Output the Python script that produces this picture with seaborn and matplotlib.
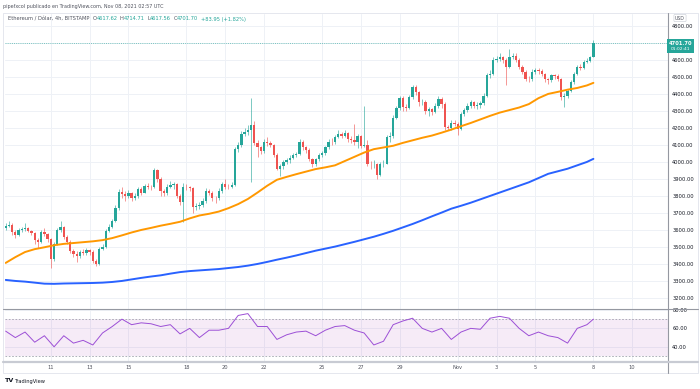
import numpy as np
import pandas as pd
import matplotlib
matplotlib.use("Agg")
import matplotlib.pyplot as plt
from matplotlib.patches import Rectangle
from matplotlib.lines import Line2D
import seaborn as sns

# ---------------- data ----------------
start_time = "2021-10-08 16:00"
first_open = 3610
closes = [3625,3630,3585,3570,3600,3605,3610,3595,3580,3540,
          3530,3590,3575,3545,3430,3520,3600,3615,3560,3530,
          3475,3460,3445,3470,3465,3480,3470,3420,3400,3490,
          3500,3595,3620,3655,3730,3825,3810,3800,3815,3790,
          3800,3840,3820,3860,3855,3850,3950,3900,3830,3815,
          3850,3865,3870,3800,3765,3855,3850,3845,3735,3740,
          3745,3770,3830,3820,3790,3785,3830,3868,3855,3850,
          3865,4075,4100,4165,4175,4185,4215,4110,4085,4065,
          4120,4110,4100,4040,3960,3975,4000,4010,4025,4040,
          4045,4120,4085,4070,4015,3985,4015,4040,4050,4085,
          4120,4115,4145,4165,4155,4170,4135,4130,4115,4150,
          4095,4100,3990,3985,3990,3925,3985,3990,4145,4150,
          4260,4315,4375,4325,4320,4380,4440,4410,4350,4355,
          4300,4310,4295,4330,4370,4340,4205,4200,4230,4225,
          4195,4280,4305,4330,4350,4330,4335,4345,4390,4510,
          4520,4600,4605,4615,4600,4560,4620,4625,4600,4560,
          4530,4490,4485,4530,4540,4535,4520,4485,4480,4510,
          4505,4490,4380,4390,4420,4470,4520,4560,4555,4590,
          4595,4617.62,4701.70]
highs = [3640,3650,3640,3600,3610,3615,3640,3620,3600,3590,
         3550,3600,3610,3580,3555,3530,3610,3650,3625,3570,
         3540,3490,3475,3480,3490,3495,3490,3480,3430,3500,
         3515,3605,3635,3665,3745,3840,3850,3830,3835,3825,
         3820,3855,3850,3870,3875,3865,3965,3960,3910,3840,
         3870,3890,3880,3875,3810,3875,3870,3860,3850,3760,
         3765,3785,3845,3840,3830,3800,3845,3880,3900,3870,
         3880,4085,4115,4180,4200,4220,4375,4240,4130,4095,
         4135,4145,4125,4105,4050,3990,4010,4025,4040,4055,
         4060,4135,4130,4095,4080,4025,4025,4055,4065,4095,
         4135,4140,4160,4185,4175,4185,4175,4150,4225,4165,
         4160,4330,4130,4005,4010,3995,4000,4010,4160,4175,
         4275,4330,4390,4385,4340,4395,4455,4450,4420,4370,
         4365,4325,4320,4345,4385,4380,4350,4220,4245,4245,
         4235,4295,4320,4345,4365,4360,4350,4360,4405,4525,
         4540,4615,4625,4640,4625,4610,4665,4640,4640,4610,
         4570,4540,4505,4545,4555,4550,4545,4525,4495,4520,
         4520,4515,4495,4405,4430,4480,4530,4570,4575,4600,
         4610,4625,4714.71]
lows = [3600,3615,3570,3555,3565,3590,3595,3585,3570,3520,
        3495,3525,3565,3530,3376,3415,3510,3590,3545,3515,
        3465,3440,3410,3435,3450,3455,3455,3405,3390,3395,
        3480,3495,3585,3610,3645,3720,3790,3770,3790,3770,
        3775,3790,3805,3815,3840,3835,3845,3880,3800,3800,
        3805,3845,3840,3785,3745,3645,3835,3830,3700,3715,
        3725,3735,3760,3805,3770,3760,3775,3820,3840,3840,
        3845,3860,4060,4090,4150,4160,3880,4100,4030,4045,
        4055,4095,4085,4030,3950,3920,3960,3990,3995,4015,
        4030,4040,4070,4055,4005,3970,3975,4005,4030,4040,
        4075,4100,4105,4140,4140,4145,4120,4110,4100,4080,
        4080,4085,3975,3960,3965,3900,3915,3970,3985,4120,
        4140,4250,4305,4300,4300,4310,4370,4395,4330,4335,
        4280,4270,4275,4285,4320,4320,4190,4185,4190,4210,
        4160,4185,4270,4295,4320,4315,4310,4320,4335,4380,
        4495,4510,4585,4595,4580,4450,4550,4605,4590,4545,
        4515,4475,4470,4475,4520,4520,4505,4470,4460,4470,
        4490,4475,4365,4323,4375,4410,4460,4510,4540,4545,
        4580,4590,4617.56]

ma_idx = list(range(0, 181, 3)) + [182]
ma_orange = [3406,3440,3470,3487,3498,3510,3518,3523,3528,3533,
             3540,3552,3568,3585,3600,3612,3625,3636,3648,3668,
             3685,3695,3708,3728,3752,3782,3820,3860,3895,3912,
             3928,3943,3958,3968,3980,4005,4030,4055,4075,4085,
             4095,4112,4127,4142,4155,4172,4190,4210,4229,4250,
             4271,4290,4305,4320,4340,4375,4400,4412,4425,4435,
             4450,4465]
ma_blue = [3306,3300,3296,3290,3284,3283,3285,3286,3287,3288,
           3290,3294,3300,3309,3318,3326,3333,3343,3352,3358,
           3362,3366,3370,3376,3382,3390,3400,3412,3425,3437,
           3450,3464,3478,3490,3502,3516,3530,3545,3560,3577,
           3595,3615,3635,3657,3680,3702,3725,3742,3760,3780,
           3800,3820,3840,3860,3880,3905,3930,3945,3960,3980,
           4000,4018]

rsi_idx = list(range(0, 181, 3)) + [182]
rsi_vals = [57,50,56,45,52,40,52,44,47,42,
            55,62,70,64,66,65,62,64,54,60,
            50,58,58,60,74,76,62,62,48,53,
            56,57,52,58,62,63,58,55,42,46,
            64,68,71,60,56,60,48,56,60,59,
            71,73,71,60,52,56,52,50,44,60,
            64,70]

date_tick_days = ["2021-10-11","2021-10-13","2021-10-15","2021-10-18","2021-10-20",
                  "2021-10-22","2021-10-25","2021-10-27","2021-10-29","2021-11-01",
                  "2021-11-03","2021-11-05","2021-11-08","2021-11-10"]
date_tick_labels = ["11","13","15","18","20","22","25","27","29","Nov","3","5","8","10"]
price_ticks = list(range(3200, 4801, 100))
rsi_ticks = [40, 60, 80]
last_price = 4701.70
countdown = "01:02:41"
header_title = "pipefxcol publicado en TradingView.com, Nov 08, 2021 02:57 UTC"
legend_symbol = "Ethereum / Dólar, 4h, BITSTAMP"
legend_ohlc = [("O", "4617.62"), ("H", "4714.71"), ("L", "4617.56"), ("C", "4701.70")]
legend_change = "+83.95 (+1.82%)"

# ---------------- styling ----------------
sns.set_theme(style="white")
plt.rcParams["font.family"] = ["DejaVu Sans"]

UP, DOWN = "#26a69a", "#ef5350"
GRID = "#eef1f6"
TXT = "#131722"
FS = 3.7

W, H = 700, 389
fig = plt.figure(figsize=(7, 3.89), dpi=100)
fig.patch.set_facecolor("white")

def rect(x0, y0, x1, y1):
    return [x0 / W, 1 - y1 / H, (x1 - x0) / W, (y1 - y0) / H]

ax = fig.add_axes(rect(5, 14, 668, 309))
rax = fig.add_axes(rect(5, 309, 668, 361), sharex=ax)

n = len(closes)
x = np.arange(n)
opens = [first_open] + closes[:-1]
t0 = pd.Timestamp(start_time)
tick_pos = [(pd.Timestamp(d) - t0) / pd.Timedelta("4h") for d in date_tick_days]

df = pd.DataFrame({"x": x, "open": opens, "close": closes, "high": highs, "low": lows})
df["up"] = df["close"] >= df["open"]
df["col"] = np.where(df["up"], UP, DOWN)

# grid
for a in (ax, rax):
    for tp in tick_pos:
        a.axvline(tp, color=GRID, lw=0.7, zorder=0)
for p in price_ticks:
    ax.axhline(p, color=GRID, lw=0.7, zorder=0)
for r in rsi_ticks:
    rax.axhline(r, color=GRID, lw=0.7, zorder=0)

# candles
ax.vlines(df["x"], df["low"], df["high"], colors=df["col"], lw=0.6, alpha=0.7, zorder=2)
body_bottom = np.minimum(df["open"], df["close"])
body_h = np.maximum(np.abs(df["close"] - df["open"]), 1.5)
ax.bar(df["x"], body_h, bottom=body_bottom, width=0.72, color=df["col"], lw=0, zorder=3)

# moving averages
sns.lineplot(x=ma_idx, y=ma_orange, ax=ax, color="#ff9800", lw=1.4, zorder=4)
sns.lineplot(x=ma_idx, y=ma_blue, ax=ax, color="#2962ff", lw=1.4, zorder=4)

# last price line
ax.axhline(last_price, color=UP, lw=0.7, ls=(0, (1, 1.2)), alpha=0.6, zorder=1)

ax.set_xlim(-0.2, 205.1)
ax.set_ylim(3135, 4870)
ax.set_xticks(tick_pos)
ax.yaxis.tick_right()
ax.set_yticks(price_ticks)
ax.set_yticklabels(["" if p == 4700 else f"{p:.2f}" for p in price_ticks])
ax.tick_params(axis="y", length=0, pad=3.0, labelsize=FS, labelcolor=TXT)
ax.tick_params(axis="x", length=0, labelbottom=False)

# RSI panel
rax.axhspan(30, 70, color="#9c27b0", alpha=0.09, lw=0, zorder=0)
for lvl in (30, 70):
    rax.axhline(lvl, color="#a0a3ad", lw=0.6, ls=(0, (2, 2)), zorder=1)
sns.lineplot(x=rsi_idx, y=rsi_vals, ax=rax, color="#9c4fd6", lw=0.7, zorder=3)
rax.set_ylim(24.6, 81)
rax.yaxis.tick_right()
rax.set_yticks(rsi_ticks)
rax.set_yticklabels([f"{r:.2f}" for r in rsi_ticks])
rax.tick_params(axis="y", length=0, pad=3.0, labelsize=FS, labelcolor=TXT)
rax.set_xticks(tick_pos)
rax.set_xticklabels(date_tick_labels)
rax.tick_params(axis="x", length=0, pad=3.0, labelsize=FS, labelcolor="#50535e")

for a in (ax, rax):
    for s in a.spines.values():
        s.set_visible(False)
    a.set_xlabel("")
    a.set_ylabel("")
    a.set_facecolor("none")

# frame lines (pixel coords)
def fline(x0, y0, x1, y1, **kw):
    fig.add_artist(Line2D([x0 / W, x1 / W], [1 - y0 / H, 1 - y1 / H], transform=fig.transFigure, **kw))

fig.add_artist(Rectangle((3 / W, 1 - 373 / H), 695 / W, 360 / H, transform=fig.transFigure,
                         fill=False, ec="#e0e3eb", lw=0.6))
fline(668, 13, 668, 373, color="#9598a1", lw=0.8)
fline(3, 309, 698, 309, color="#9598a1", lw=0.8)
fline(3, 361.5, 698, 361.5, color="#c8cbd3", lw=1.6)

# header texts
fig.text(3 / W, 1 - 6.5 / H, header_title, fontsize=3.5, color="#50535e", va="center", ha="left")
renderer = fig.canvas.get_renderer()
xpos = 8
LY = 1 - 19 / H
t = fig.text(xpos / W, LY, legend_symbol, fontsize=FS, color="#50535e", va="center")
xpos += t.get_window_extent(renderer).width + 3
for letter, val in legend_ohlc:
    t = fig.text(xpos / W, LY, letter, fontsize=FS, color="#50535e", va="center")
    xpos += t.get_window_extent(renderer).width
    t = fig.text(xpos / W, LY, val, fontsize=FS, color=UP, va="center")
    xpos += t.get_window_extent(renderer).width + 2.5
fig.text(xpos / W, LY, legend_change, fontsize=FS, color=UP, va="center")

# USD box
fig.text(680 / W, 1 - 18 / H, "USD", fontsize=3.3, color="#50535e", va="center", ha="center",
         bbox=dict(boxstyle="round,pad=0.25", fc="white", ec="#d1d4dc", lw=0.5))

# last price box
fig.add_artist(Rectangle((667 / W, 1 - 53 / H), 27 / W, 14 / H, transform=fig.transFigure,
                         fc=UP, ec="none", zorder=5))
fig.text(680.5 / W, 1 - 43.5 / H, f"{last_price:.2f}", fontsize=FS, color="white",
         fontweight="bold", va="center", ha="center", zorder=6)
fig.text(680.5 / W, 1 - 49.5 / H, countdown, fontsize=3.2, color="white",
         va="center", ha="center", zorder=6)

# logo
fig.text(5 / W, 1 - 381 / H, "TV", fontsize=4.6, fontweight="bold", color=TXT, va="center")
fig.text(14 / W, 1 - 381 / H, "TradingView", fontsize=3.7, color=TXT, va="center")

fig.savefig("out.png", dpi=100, facecolor="white")
